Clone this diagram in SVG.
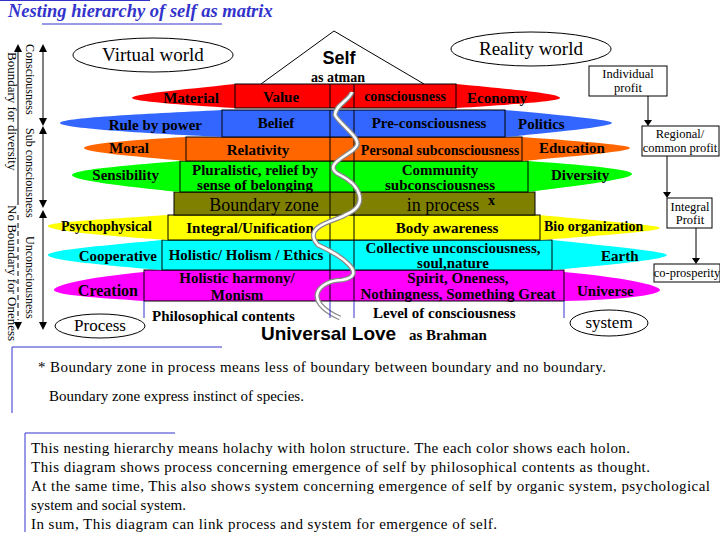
<svg xmlns="http://www.w3.org/2000/svg" width="720" height="540" viewBox="0 0 720 540">
<style>
text{font-family:"Liberation Serif",serif;fill:#000}
.b{font-weight:bold;font-size:15px}
.r{stroke:#000;stroke-width:1}
.n{font-size:17px}
.s{font-size:12.5px}
.t{font-size:15px}
.ln{stroke:#000;stroke-width:1;fill:none}
.bl{stroke:#3333cc;stroke-width:1;fill:none}
</style>
<rect width="720" height="540" fill="#fff"/>
<g id="title">
<line x1="0" y1="0.5" x2="150" y2="0.5" stroke="#3333cc"/>
<text x="8" y="17" style="font-style:italic;font-weight:bold;font-size:18.5px;fill:#3333cc">Nesting hierarchy of self  as matrix</text>
<line x1="42" y1="24" x2="222" y2="24" stroke="#3333cc"/>
</g>
<g id="axes">
<line class="ln" x1="18" y1="52" x2="18" y2="205"/>
<path d="M14,52 L22,52 L18,44 z"/>
<line class="ln" x1="18" y1="215" x2="18" y2="320" stroke-dasharray="5,3"/>
<path d="M14,322 L22,322 L18,330 z"/>
<text transform="translate(8,52) rotate(90)" style="font-size:13px">Boundary for diversity</text>
<text transform="translate(8,205) rotate(90)" style="font-size:13px">No Boundary for Oneness</text>
<line class="ln" x1="43" y1="52" x2="43" y2="118"/>
<path d="M39,52 L47,52 L43,44 z"/><path d="M39,118 L47,118 L43,126 z"/>
<line class="ln" x1="43" y1="134" x2="43" y2="200"/>
<path d="M39,134 L47,134 L43,126 z"/><path d="M39,200 L47,200 L43,208 z"/>
<line class="ln" x1="43" y1="218" x2="43" y2="322"/>
<path d="M39,218 L47,218 L43,210 z"/><path d="M39,322 L47,322 L43,330 z"/>
<text transform="translate(26,44) rotate(90)" style="font-size:12px">Consciousness</text>
<text transform="translate(26,128) rotate(90)" style="font-size:12px">Sub consciousness</text>
<text transform="translate(26,236) rotate(90)" style="font-size:12px">Unconsciousness</text>
</g>
<g id="self">
<polyline class="ln" points="261,84 334,31 424,84"/>
<text x="339" y="64" text-anchor="middle" style="font-family:'Liberation Sans',sans-serif;font-weight:bold;font-size:18px">Self</text>
<text x="338" y="82" text-anchor="middle" class="b" style="font-size:14px">as atman</text>
</g>
<g id="virtual"><ellipse cx="153" cy="55" rx="80" ry="17" fill="#fff" class="r"/><text x="153" y="61" text-anchor="middle" style="font-size:19px">Virtual world</text></g>
<g id="reality"><ellipse cx="531" cy="49" rx="80" ry="17" fill="#fff" class="r"/><text x="531" y="55" text-anchor="middle" style="font-size:19px">Reality world</text></g>
<g id="row8">
<path d="M144,270 L564,270 L564,272 C620,277 660,285 660,290 C660,295 620,300 564,301 L144,301 C100,298 54,295 54,290 C54,284 100,276 144,272 z" fill="#f0f"/>
<rect x="144" y="270" width="420" height="31" fill="#f0f" class="r"/>
<line class="ln" x1="330" y1="270" x2="330" y2="301"/><line class="ln" x1="354" y1="270" x2="354" y2="301"/>
<text x="138" y="296" text-anchor="end" class="b" style="font-size:16px">Creation</text>
<text x="237" y="283" text-anchor="middle" class="b">Holistic harmony/</text>
<text x="237" y="300" text-anchor="middle" class="b">Monism</text>
<text x="458" y="283" text-anchor="middle" class="b">Spirit,  Oneness,</text>
<text x="458" y="299" text-anchor="middle" class="b">Nothingness, Something Great</text>
<text x="577" y="296" class="b">Universe</text>
</g>
<g id="row7">
<path d="M162,240 L552,240 C620,247 667,252 667,255 C667,259 620,264 552,270 L162,270 C110,266 48,260 48,255 C48,250 110,245 162,240 z" fill="#0ff"/>
<rect x="162" y="240" width="390" height="30" fill="#0ff" class="r"/>
<line class="ln" x1="330" y1="240" x2="330" y2="270"/><line class="ln" x1="354" y1="240" x2="354" y2="270"/>
<text x="157" y="261" text-anchor="end" class="b">Cooperative</text>
<text x="246" y="260" text-anchor="middle" class="b">Holistic/ Holism / Ethics</text>
<text x="453" y="253" text-anchor="middle" class="b">Collective unconsciousness,</text>
<text x="453" y="268" text-anchor="middle" class="b">soul,nature</text>
<text x="601" y="261" class="b">Earth</text>
</g>
<g id="row6">
<path d="M168,215 L540,215 C610,222 660,225 660,228 C660,231 610,235 540,240 L168,240 C110,236 48,231 48,226 C48,222 110,219 168,215 z" fill="#ff0"/>
<rect x="168" y="215" width="372" height="25" fill="#ff0" class="r"/>
<line class="ln" x1="330" y1="215" x2="330" y2="240"/><line class="ln" x1="354" y1="215" x2="354" y2="240"/>
<text x="152" y="231" text-anchor="end" class="b" style="font-size:14px">Psychophysical</text>
<text x="250" y="233" text-anchor="middle" class="b">Integral/Unification</text>
<text x="447" y="233" text-anchor="middle" class="b">Body awareness</text>
<text x="544" y="231" class="b" style="font-size:14px">Bio organization</text>
</g>
<g id="row5">
<rect x="174" y="192" width="361" height="23" fill="#808000" class="r"/>
<line class="ln" x1="330" y1="192" x2="330" y2="215"/><line class="ln" x1="354" y1="192" x2="354" y2="215"/>
<text x="264" y="211" text-anchor="middle" style="font-size:18px">Boundary zone</text>
<text x="443" y="211" text-anchor="middle" style="font-size:18px">in process</text>
<text x="488" y="205" style="font-size:14px;font-weight:bold">x</text>
</g>
<g id="row4">
<path d="M180,161 L528,161 C600,166 632,170 632,174 C632,178 600,183 528,192 L180,192 C120,186 72,180 72,175 C72,170 120,166 180,161 z" fill="#0f0"/>
<rect x="180" y="161" width="348" height="31" fill="#0f0" class="r"/>
<line class="ln" x1="330" y1="161" x2="330" y2="192"/><line class="ln" x1="354" y1="161" x2="354" y2="192"/>
<text x="159" y="180" text-anchor="end" class="b">Sensibility</text>
<text x="255" y="175" text-anchor="middle" class="b">Pluralistic, relief by</text>
<text x="255" y="190" text-anchor="middle" class="b">sense of belonging</text>
<text x="440" y="175" text-anchor="middle" class="b">Community</text>
<text x="440" y="190" text-anchor="middle" class="b">subconsciousness</text>
<text x="551" y="180" class="b">Diversity</text>
</g>
<g id="row3">
<path d="M186,137 L522,137 C590,142 630,145 630,148 C630,151 590,155 522,161 L186,161 C130,156 84,152 84,148 C84,144 130,140 186,137 z" fill="#f60"/>
<rect x="186" y="137" width="336" height="24" fill="#f60" class="r"/>
<line class="ln" x1="330" y1="137" x2="330" y2="161"/><line class="ln" x1="354" y1="137" x2="354" y2="161"/>
<text x="149" y="153" text-anchor="end" class="b">Moral</text>
<text x="258" y="155" text-anchor="middle" class="b">Relativity</text>
<text x="440" y="155" text-anchor="middle" class="b" style="font-size:14px">Personal subconsciousness</text>
<text x="539" y="153" class="b">Education</text>
</g>
<g id="row2">
<path d="M222,110 L505,110 C570,116 612,120 612,123 C612,126 570,131 505,137 L222,137 C140,133 60,128 60,123 C60,118 140,114 222,110 z" fill="#36f"/>
<rect x="222" y="110" width="283" height="27" fill="#36f" class="r"/>
<line class="ln" x1="330" y1="110" x2="330" y2="137"/><line class="ln" x1="354" y1="110" x2="354" y2="137"/>
<text x="202" y="130" text-anchor="end" class="b">Rule by power</text>
<text x="276" y="128" text-anchor="middle" class="b">Belief</text>
<text x="429" y="128" text-anchor="middle" class="b">Pre-consciousness</text>
<text x="518" y="129" class="b">Politics</text>
</g>
<g id="row1">
<path d="M235,84 L456,84 C520,90 560,94 560,98 C560,101 520,104 456,108 L235,108 C180,105 132,101 132,98 C132,94 180,90 235,84 z" fill="#f00"/>
<rect x="235" y="84" width="221" height="24" fill="#f00" class="r"/>
<line class="ln" x1="330" y1="84" x2="330" y2="108"/><line class="ln" x1="354" y1="84" x2="354" y2="108"/>
<text x="219" y="103" text-anchor="end" class="b">Material</text>
<text x="281" y="102" text-anchor="middle" class="b">Value</text>
<text x="405" y="101" text-anchor="middle" class="b" style="font-size:14px">consciousness</text>
<text x="467" y="103" class="b">Economy</text>
</g>
<g id="spiral">
<path d="M340,318 C300,300 320,280 342,280 C370,275 340,255 318,245 C300,225 340,220 345,215 C370,205 360,185 340,175 C320,165 350,155 355,148 C365,140 340,125 335,115 C335,105 350,100 352,92" fill="none" stroke="#888" stroke-width="5"/>
<path d="M340,318 C300,300 320,280 342,280 C370,275 340,255 318,245 C300,225 340,220 345,215 C370,205 360,185 340,175 C320,165 350,155 355,148 C365,140 340,125 335,115 C335,105 350,100 352,92" fill="none" stroke="#fff" stroke-width="2.5"/>
</g>
<g id="bottom">
<line class="bl" x1="144" y1="301" x2="144" y2="318"/>
<line class="bl" x1="330" y1="301" x2="330" y2="318"/>
<line class="bl" x1="354" y1="301" x2="354" y2="318"/>
<line class="bl" x1="564" y1="301" x2="564" y2="318"/>
<text x="152" y="321" class="b">Philosophical contents</text>
<text x="373" y="318" class="b">Level of consciousness</text>
<text x="261" y="340" style="font-family:'Liberation Sans',sans-serif;font-weight:bold;font-size:19px">Universal Love</text>
<text x="409" y="340" class="b">as Brahman</text>
</g>
<g id="process"><ellipse cx="100" cy="326" rx="45" ry="12" fill="#fff" class="r"/><text x="100" y="331" text-anchor="middle" class="n">Process</text></g>
<g id="system"><ellipse cx="609" cy="323" rx="39" ry="13" fill="#fff" class="r"/><text x="609" y="328" text-anchor="middle" class="n">system</text></g>
<g id="profits">
<rect x="589" y="66" width="78" height="30" fill="#fff" class="r"/>
<text x="628" y="78" text-anchor="middle" class="s">Individual</text><text x="628" y="92" text-anchor="middle" class="s">profit</text>
<rect x="642" y="126" width="77" height="30" fill="#fff" class="r"/>
<text x="680" y="138" text-anchor="middle" class="s">Regional/</text><text x="680" y="152" text-anchor="middle" class="s">common profit</text>
<rect x="667" y="198" width="45" height="30" fill="#fff" class="r"/>
<text x="690" y="211" text-anchor="middle" class="s">Integral</text><text x="690" y="224" text-anchor="middle" class="s">Profit</text>
<rect x="654" y="264" width="66" height="18" fill="#fff" class="r"/>
<text x="687" y="277" text-anchor="middle" class="s">co-prosperity</text>
</g>
<g id="connectors">
<line class="ln" x1="648" y1="96" x2="648" y2="120"/><path d="M644,120 L652,120 L648,126 z"/>
<line class="ln" x1="667" y1="156" x2="667" y2="192"/><path d="M663,192 L671,192 L667,198 z"/>
<line class="ln" x1="696" y1="228" x2="696" y2="258"/><path d="M692,258 L700,258 L696,264 z"/>
</g>
<g id="note1">
<line class="bl" x1="12" y1="347" x2="222" y2="347"/>
<line class="bl" x1="12" y1="347" x2="12" y2="413"/>
<text x="38" y="372" class="t" textLength="568">* Boundary zone in process means less of boundary between boundary and no boundary.</text>
<text x="49" y="401" class="t">Boundary zone express instinct of species.</text>
</g>
<g id="note2">
<line class="bl" x1="25" y1="433" x2="175" y2="433"/>
<line class="bl" x1="25" y1="433" x2="25" y2="532"/>
<text x="31" y="453" class="t" textLength="599">This nesting hierarchy means holachy with holon structure. The each color shows each holon.</text>
<text x="31" y="472" class="t" textLength="619">This diagram shows  process concerning emergence of self by philosophical contents as thought.</text>
<text x="31" y="491" class="t" textLength="679">At the same time, This also shows system concerning emergence of self by organic system, psychological</text>
<text x="31" y="510" class="t">system and social system.</text>
<text x="31" y="529" class="t" textLength="466">In sum, This diagram can link process and system  for emergence of self.</text>
</g>
</svg>
